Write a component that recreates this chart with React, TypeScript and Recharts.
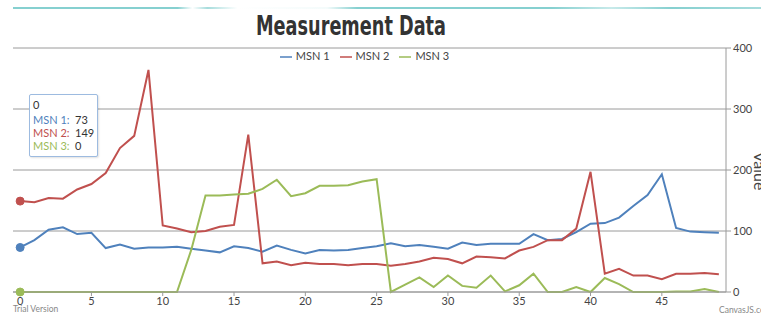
import React from "react";
import {
  LineChart,
  Line,
  XAxis,
  YAxis,
  CartesianGrid,
  Tooltip,
  Legend,
} from "recharts";

const W = 761;
const H = 314;

const msn1 = [
  73, 85, 102, 106, 95, 97, 72, 78, 71, 73, 73, 74, 71, 68, 65, 75, 72, 66, 76, 69,
  63, 69, 68, 69, 72, 75, 80, 75, 77, 74, 71, 81, 77, 79, 79, 79, 95, 85, 87, 98,
  112, 113, 122, 141, 159, 193, 105, 99, 98, 97,
];
const msn2 = [
  149, 147, 154, 153, 168, 177, 195, 236, 256, 364, 109, 104, 98, 100, 107, 110, 258, 47, 50, 44,
  48, 46, 46, 44, 46, 46, 43, 46, 50, 56, 54, 47, 58, 57, 55, 68, 74, 85, 85, 104,
  197, 30, 38, 27, 27, 21, 30, 30, 31, 29,
];
const msn3 = [
  0, 0, 0, 0, 0, 0, 0, 0, 0, 0, 0, 0, 69, 158, 158, 160, 161, 169, 184, 157,
  162, 174, 174, 175, 181, 185, 0, 12, 24, 8, 27, 10, 7, 27, 1, 11, 30, 0, 0, 8,
  0, 23, 13, 0, 0, 0, 1, 1, 5, 0,
];

const xTicks = [0, 5, 10, 15, 20, 25, 30, 35, 40, 45];
const yTicks = [0, 100, 200, 300, 400];

const seriesNames = ["MSN 1", "MSN 2", "MSN 3"];
const colors = ["#4F81BC", "#C0504E", "#9BBB58"];

const data = msn1.map((v, i) => ({
  x: i,
  "MSN 1": v,
  "MSN 2": msn2[i],
  "MSN 3": msn3[i],
}));

const FONT = "Lato, 'Open Sans', sans-serif";

function TipBox({ payload, label }: any) {
  if (!payload || payload.length === 0) return null;
  return (
    <div
      style={{
        boxSizing: "border-box",
        width: 69,
        background: "#fff",
        border: "1px solid #9dbbe0",
        borderRadius: 2,
        boxShadow: "1px 1px 2px rgba(0,0,0,0.12)",
        padding: "3px 3px 4px 3px",
        fontFamily: FONT,
        fontSize: 11,
        lineHeight: "13px",
        color: "#333",
        whiteSpace: "nowrap",
      }}
    >
      <div style={{ marginBottom: 2 }}>{label}</div>
      {payload.map((p: any) => (
        <div key={p.name}>
          <span style={{ color: p.color, display: "inline-block", width: 42 }}>{p.name}:</span>
          <span>{p.value}</span>
        </div>
      ))}
    </div>
  );
}

export default function App() {
  return (
    <div style={{ position: "absolute", left: 0, top: 0, width: W, height: H, background: "#fff" }}>
      <svg
        width={W}
        height={H}
        style={{ position: "absolute", left: 0, top: 0, pointerEvents: "none" }}
      >
        <defs>
          <linearGradient id="topline" x1="0" x2="1" y1="0" y2="0">
            <stop offset="0" stopColor="#86d0d0" />
            <stop offset="0.22" stopColor="#86d0d0" />
            <stop offset="0.24" stopColor="#ffffff" />
            <stop offset="0.26" stopColor="#a6dcdc" />
            <stop offset="0.3" stopColor="#ffffff" />
            <stop offset="0.42" stopColor="#f4fbfb" />
            <stop offset="0.46" stopColor="#86d0d0" />
            <stop offset="0.72" stopColor="#86d0d0" />
            <stop offset="0.8" stopColor="#c8eaea" />
            <stop offset="0.88" stopColor="#86d0d0" />
            <stop offset="1" stopColor="#a6dcdc" />
          </linearGradient>
        </defs>
        <rect x={13} y={7} width={W - 13} height={2} fill="url(#topline)" />
      </svg>

      <LineChart
        width={W}
        height={H}
        data={data}
        margin={{ top: 48, right: 0, bottom: 0, left: 13 }}
        style={{ fontFamily: FONT }}
      >
        <CartesianGrid vertical={false} stroke="#9a9a9a" strokeWidth={1} yAxisId="v" />
        <XAxis
          dataKey="x"
          type="number"
          domain={[-0.5, 49.5]}
          ticks={xTicks}
          height={22}
          tickSize={4}
          tickMargin={1}
          stroke="#9a9a9a"
          tick={{ fill: "#444", fontSize: 11 }}
          allowDataOverflow
        />
        <YAxis
          yAxisId="v"
          orientation="right"
          domain={[0, 400]}
          ticks={yTicks}
          width={35}
          tickSize={5}
          tickMargin={2}
          stroke="#9a9a9a"
          tick={{ fill: "#444", fontSize: 11 }}
        />
        <Legend
          verticalAlign="middle"
          align="center"
          layout="horizontal"
          iconSize={12}
          wrapperStyle={{ top: 49, left: 13, width: 713, fontSize: 11, lineHeight: "14px", color: "#444" }}
          formatter={(value: string) => <span style={{ color: "#444" }}>{value}</span>}
        />
        <Tooltip
          active
          defaultIndex={0}
          position={{ x: 29, y: 94 }}
          cursor={false}
          isAnimationActive={false}
          content={<TipBox />}
        />
        {seriesNames.map((name, i) => (
          <Line
            key={name}
            yAxisId="v"
            type="linear"
            dataKey={name}
            stroke={colors[i]}
            strokeWidth={2}
            dot={false}
            activeDot={{ r: 4, fill: colors[i], stroke: colors[i], strokeWidth: 1 }}
            legendType="plainline"
            isAnimationActive={false}
          />
        ))}
      </LineChart>

      <svg
        width={W}
        height={H}
        style={{ position: "absolute", left: 0, top: 0, pointerEvents: "none" }}
      >
        <text
          x={351}
          y={35}
          textAnchor="middle"
          textLength={190}
          lengthAdjust="spacingAndGlyphs"
          fontFamily="'DejaVu Sans Condensed', 'DejaVu Sans', sans-serif"
          fontWeight="bold"
          fontSize={27}
          fill="#333"
        >
          Measurement Data
        </text>
        <text
          transform="translate(754,171) rotate(90)"
          textAnchor="middle"
          fontFamily={FONT}
          fontSize={16}
          fill="#444"
        >
          Value
        </text>
        <text x={13} y={312} fontFamily={FONT} fontSize={8.5} fill="#888">
          Trial Version
        </text>
        <text x={719} y={313} fontFamily={FONT} fontSize={8.5} fill="#888">
          CanvasJS.com
        </text>
      </svg>
    </div>
  );
}
